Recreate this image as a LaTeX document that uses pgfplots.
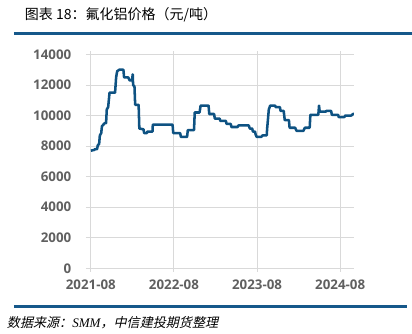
\documentclass[border=0pt]{standalone}
\usepackage{fontspec}
\setmainfont{Open Sans}
\newfontfamily\cjk{Noto Sans CJK SC}
\newfontfamily\cjkit[FakeSlant=0.22]{Noto Sans CJK SC}
\newfontfamily\serifit{Liberation Serif}
\usepackage{pgfplots}
\pgfplotsset{compat=1.18}
\definecolor{lineblue}{RGB}{14,82,130}
\definecolor{ruleblue}{RGB}{22,88,138}
\definecolor{gridgray}{RGB}{217,217,217}
\definecolor{ticktext}{RGB}{96,96,96}
\begin{document}
\begin{tikzpicture}
\path[use as bounding box] (0,0) rectangle (309pt,250.5pt);
\node[anchor=west,inner sep=0pt,font=\cjk\fontsize{10.5}{12}\selectfont] at (18.5pt,239.25pt) {图表 18：氟化铝价格（元/吨）};
\draw[ruleblue,line width=1.8pt] (10.5pt,225.5pt) -- (309pt,225.5pt);
\draw[ruleblue,line width=1.8pt] (10.5pt,20.5pt) -- (305.3pt,20.5pt);
\node[anchor=west,inner sep=0pt,font=\cjkit\fontsize{9.8}{11}\selectfont] at (5pt,8.5pt) {数据来源：{\serifit\itshape SMM}，中信建投期货整理};
\begin{axis}[
  at={(64.5pt,49.3pt)}, anchor=south west,
  scale only axis, width=201pt, height=160.35pt,
  xmin=-0.7, xmax=38, ymin=0, ymax=14000,
  xtick={0,12,24,36},
  xticklabels={2021-08,2022-08,2023-08,2024-08},
  ytick={0,2000,4000,6000,8000,10000,12000,14000},
  axis line style={draw=none},
  grid=major,
  major grid style={gridgray,line width=0.75pt},
  xtick style={gridgray,line width=0.75pt},
  ytick style={draw=none},
  tick align=outside,
  major tick length=2.5pt,
  every tick label/.append style={font=\fontsize{10}{12}\selectfont\bfseries, text=ticktext},
  /pgf/number format/assume math mode=true,
  scaled y ticks=false,
  /pgf/number format/fixed,
  /pgf/number format/set thousands separator={},
  yticklabel style={xshift=-5pt},
  xticklabel style={yshift=-3pt},
  clip=false,
]
\addplot[lineblue, line width=1.9pt, line join=round] coordinates {
(0,7700) (0.5,7750) (0.6,7800) (0.9,7800) (1.0,8050) (1.2,8150) (1.3,8700) (1.5,8850)
(1.6,9300) (2.0,9500) (2.2,9500) (2.3,10400) (2.5,10550) (2.7,11500) (3.5,11500)
(3.65,12500) (3.8,12900) (4.1,13000) (4.7,13000) (4.8,12500) (5.4,12500) (5.6,12300)
(5.95,12300) (6.05,12700) (6.1,12000) (6.3,11900) (6.4,10700) (6.9,10700) (7.0,9150)
(7.6,9100) (7.7,8850) (8.1,8850) (8.15,8950) (8.9,8950) (8.95,9400) (11.8,9400)
(11.9,8850) (12.9,8850) (13.0,8600) (13.9,8600) (14.0,9050) (14.9,9050) (15.0,10200)
(15.7,10200) (15.85,10650) (17.0,10650) (17.1,10100) (17.8,10100) (17.9,9800)
(18.6,9800) (18.7,9650) (19.5,9650) (19.6,9450) (20.2,9450) (20.3,9250) (21.2,9250)
(21.3,9350) (22.8,9350) (22.95,9150) (23.3,9150) (23.4,8950) (23.7,8950) (23.8,8750)
(23.95,8600) (24.6,8600) (24.8,8700) (25.4,8700) (25.45,9100) (25.7,10400) (25.9,10650)
(26.6,10650) (26.7,10550) (27.3,10550) (27.4,10300) (27.85,10300) (28.0,9700)
(28.6,9700) (28.7,9200) (29.5,9200) (29.7,9000) (30.7,9000) (30.9,9200) (31.6,9200)
(31.7,10050) (32.85,10050) (32.95,10650) (33.05,10250) (33.9,10250) (34.0,10300)
(34.7,10300) (34.8,10050) (35.7,10050) (35.8,9900) (36.6,9900) (36.75,10000)
(37.6,10000) (37.85,10100) (38.0,10100)
};
\end{axis}
\end{tikzpicture}
\end{document}
